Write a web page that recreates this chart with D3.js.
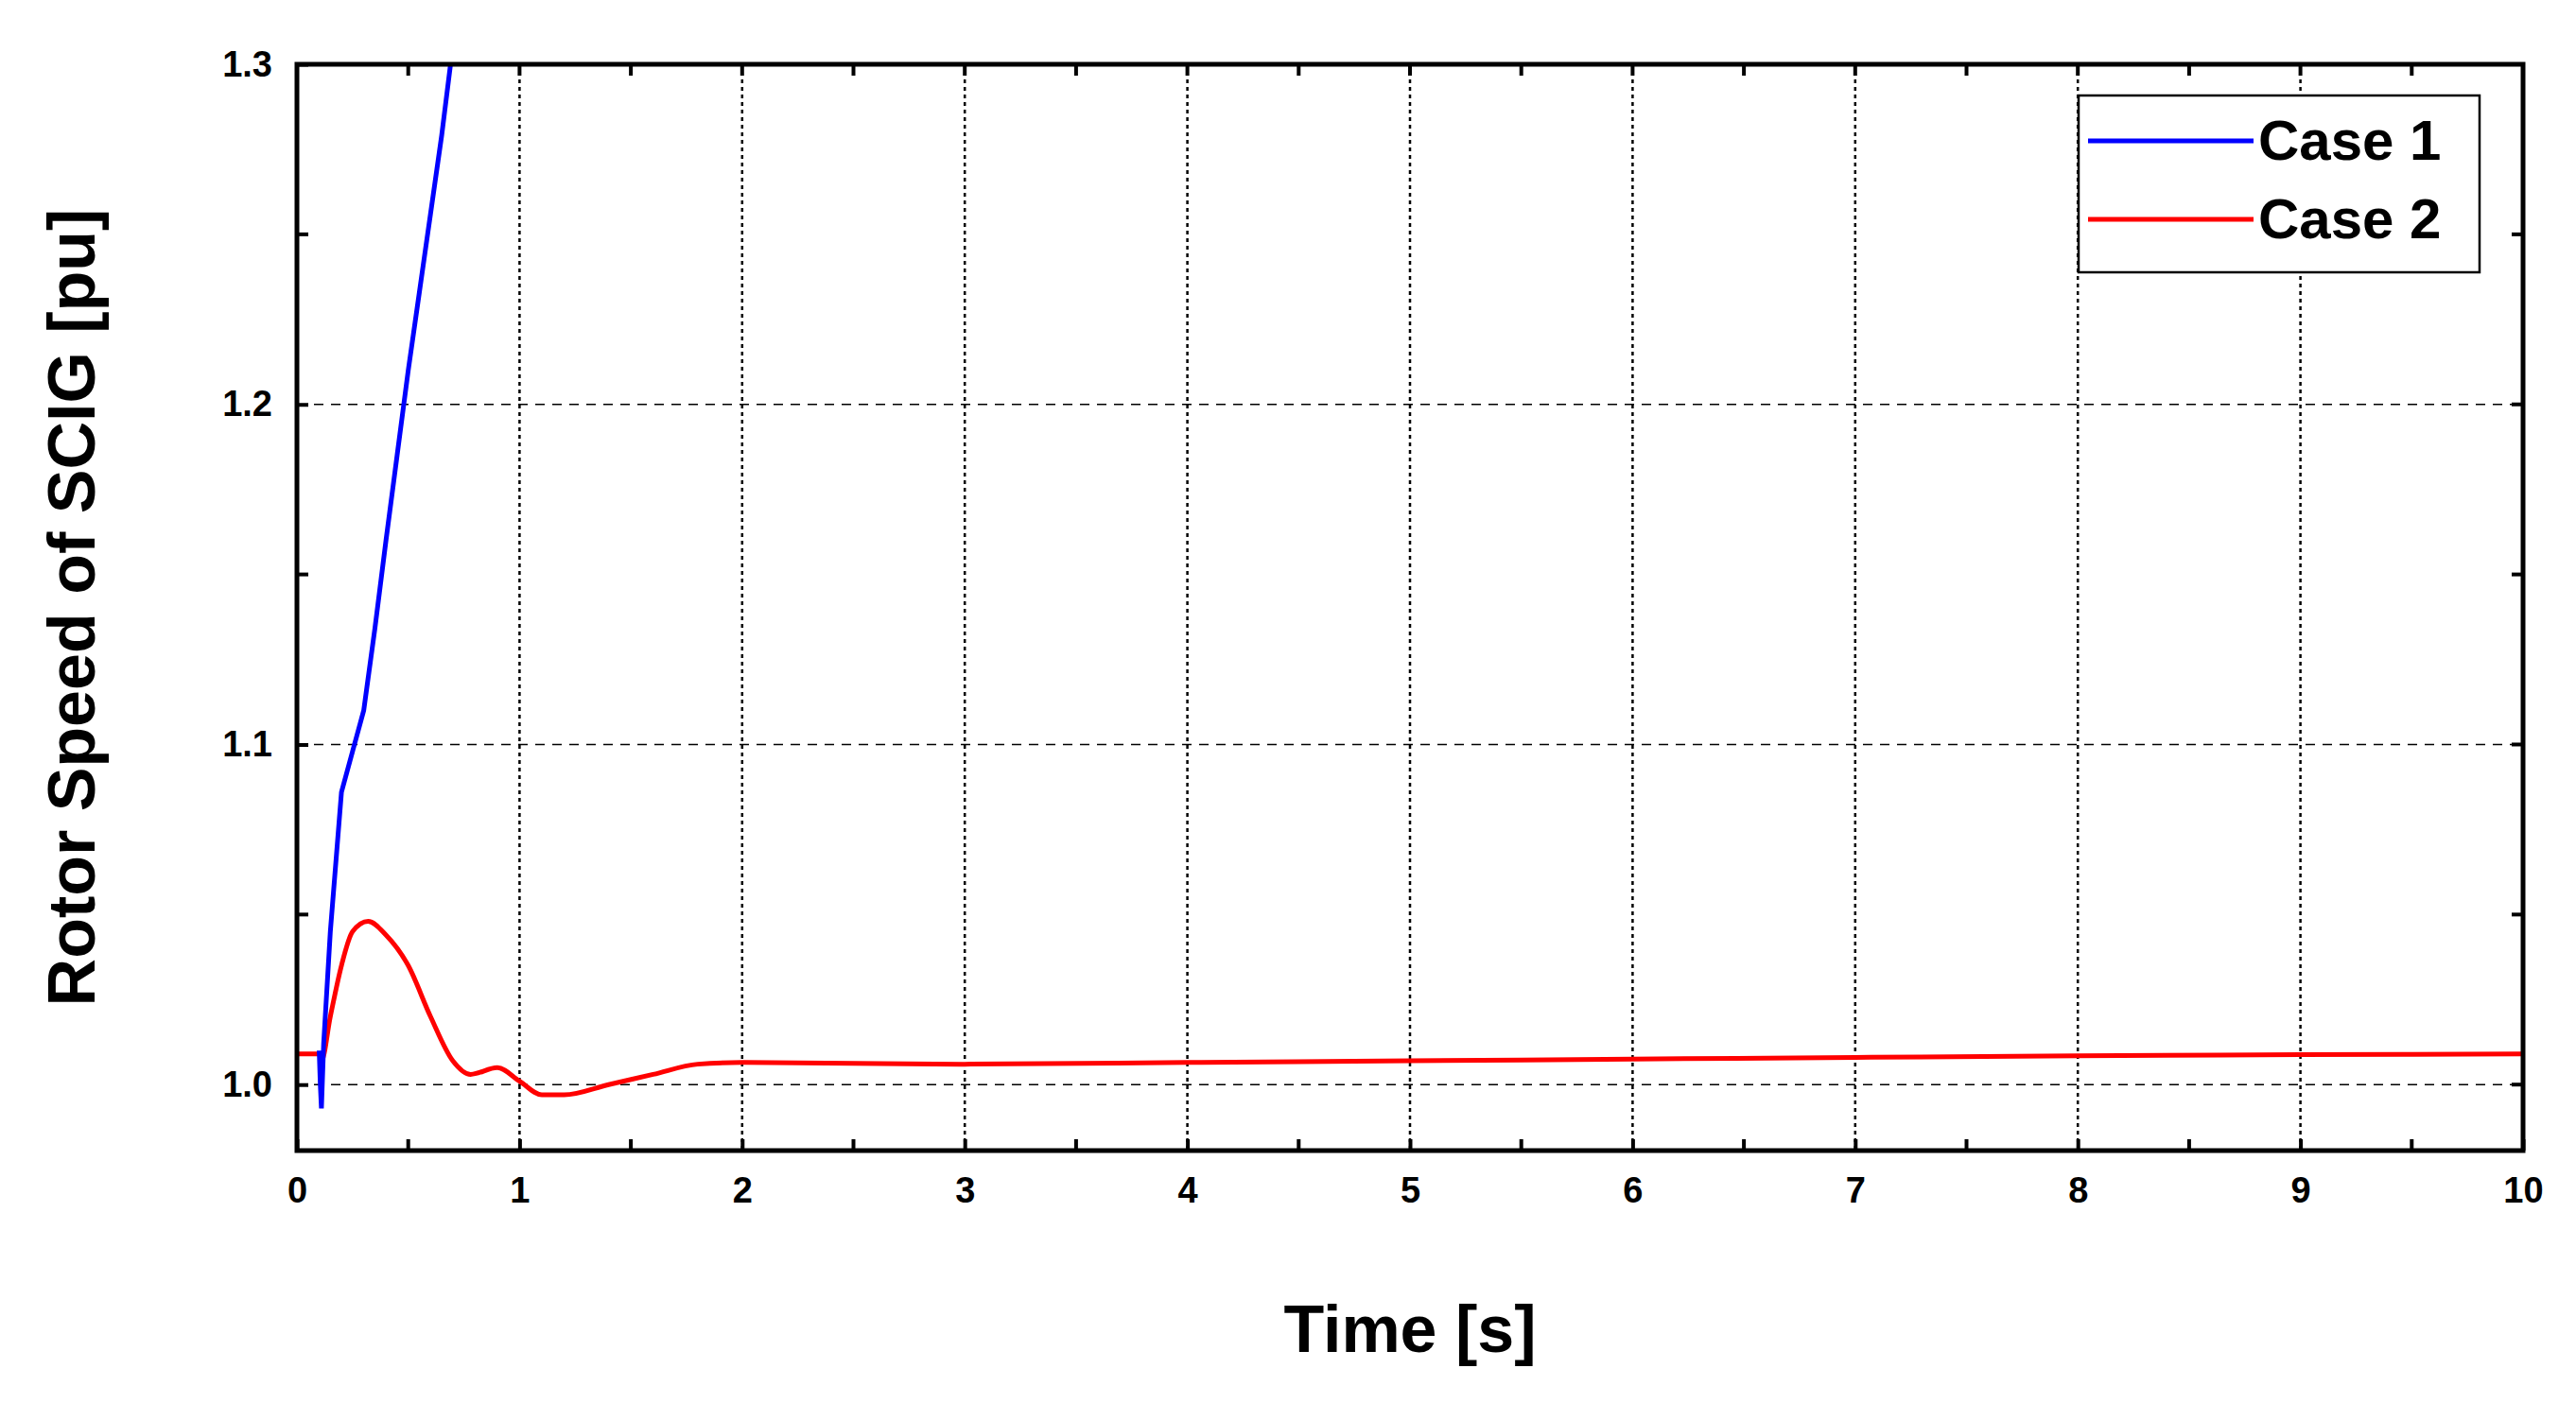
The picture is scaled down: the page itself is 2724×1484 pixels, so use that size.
<!DOCTYPE html>
<html>
<head>
<meta charset="UTF-8">
<script src="https://d3js.org/d3.v7.min.js"></script>
<style>
body { margin: 0; background: #fff; }
text { font-family: "Liberation Sans", Arial, sans-serif; font-weight: bold; }
</style>
</head>
<body>
<script>
// Case 1 (blue) - runs off the top of the plot
var time1 = [0.10, 0.105, 0.11, 0.12, 0.15, 0.2, 0.25, 0.3, 0.35, 0.4, 0.45, 0.5, 0.55, 0.6, 0.65, 0.69];
var speed1 = [1.010, 1.000, 0.993, 1.012, 1.045, 1.086, 1.098, 1.110, 1.134, 1.160, 1.185, 1.210, 1.233, 1.256, 1.279, 1.300];
// Case 2 (red)
var time2 = [0, 0.1, 0.11, 0.15, 0.2, 0.25, 0.32, 0.4, 0.5, 0.6, 0.7, 0.78, 0.9, 1.0, 1.1, 1.2, 1.4, 1.6, 1.8, 2, 3, 4, 5, 6, 7, 8, 9, 10];
var speed2 = [1.009, 1.009, 1.007, 1.020, 1.035, 1.045, 1.048, 1.044, 1.035, 1.020, 1.007, 1.003, 1.005, 1.001, 0.997, 0.997, 1.000, 1.003, 1.006, 1.0065, 1.006, 1.0065, 1.007, 1.0075, 1.008, 1.0085, 1.0088, 1.009];
var xTicks = [0, 1, 2, 3, 4, 5, 6, 7, 8, 9, 10];
var yTicks = [1.0, 1.1, 1.2, 1.3];
var seriesNames = ["Case 1", "Case 2"];
var seriesColors = ["#0000ff", "#ff0000"];

var W = 2724, H = 1484;
var margin = {top: 68, right: 56, bottom: 267, left: 314};
var width = W - margin.left - margin.right,
    height = H - margin.top - margin.bottom;

var svg = d3.select("body").append("svg").attr("width", W).attr("height", H);
var g = svg.append("g").attr("transform", "translate(" + margin.left + "," + margin.top + ")");

var x = d3.scaleLinear().domain([0, 10]).range([0, width]);
var y = d3.scaleLinear().domain([0.9806, 1.3]).range([height, 0]);

g.append("clipPath").attr("id", "clip").append("rect").attr("width", width).attr("height", height);

// grid
g.selectAll(".hgrid").data([1.0, 1.1, 1.2]).enter().append("line")
  .attr("x1", 0).attr("x2", width).attr("y1", d => y(d)).attr("y2", d => y(d))
  .attr("stroke", "#000").attr("stroke-width", 1.5).attr("stroke-dasharray", "10,8");
g.selectAll(".vgrid").data(xTicks.slice(1, -1)).enter().append("line")
  .attr("y1", 0).attr("y2", height).attr("x1", d => x(d)).attr("x2", d => x(d))
  .attr("stroke", "#000").attr("stroke-width", 2.5).attr("stroke-dasharray", "4,4");

// lines
var line = d3.line().x(d => x(d[0])).y(d => y(d[1])).curve(d3.curveMonotoneX);
var plot = g.append("g").attr("clip-path", "url(#clip)");
plot.append("path").datum(d3.zip(time2, speed2)).attr("d", line)
  .attr("fill", "none").attr("stroke", seriesColors[1]).attr("stroke-width", 5);
plot.append("path").datum(d3.zip(time1, speed1)).attr("d", d3.line().x(d => x(d[0])).y(d => y(d[1])))
  .attr("fill", "none").attr("stroke", seriesColors[0]).attr("stroke-width", 5);

// axes
var xAxis = d3.axisBottom(x).tickValues(xTicks).tickSize(-12).tickPadding(28).tickFormat(d3.format("d"));
var yAxis = d3.axisLeft(y).tickValues(yTicks).tickSize(-12).tickPadding(26).tickFormat(d3.format(".1f"));
var gx = g.append("g").attr("transform", "translate(0," + height + ")").call(xAxis);
var gy = g.append("g").call(yAxis);
[gx, gy].forEach(a => {
  a.select(".domain").remove();
  a.selectAll("line").attr("stroke-width", 4);
  a.selectAll("text").style("font-size", "38px").style("font-weight", "bold").attr("fill", "#000");
});
gx.selectAll(".tick line").attr("y2", -12);
// minor + mirrored ticks
var minorX = d3.range(0.5, 10, 1), minorY = [1.05, 1.15, 1.25];
g.selectAll(".mx").data(minorX).enter().append("line")
  .attr("x1", d => x(d)).attr("x2", d => x(d)).attr("y1", height).attr("y2", height - 12)
  .attr("stroke", "#000").attr("stroke-width", 4);
g.selectAll(".mxt").data(xTicks.concat(minorX)).enter().append("line")
  .attr("x1", d => x(d)).attr("x2", d => x(d)).attr("y1", 0).attr("y2", 12)
  .attr("stroke", "#000").attr("stroke-width", 4);
g.selectAll(".my").data(minorY).enter().append("line")
  .attr("x1", 0).attr("x2", 12).attr("y1", d => y(d)).attr("y2", d => y(d))
  .attr("stroke", "#000").attr("stroke-width", 4);
g.selectAll(".myr").data(yTicks.concat(minorY)).enter().append("line")
  .attr("x1", width).attr("x2", width - 12).attr("y1", d => y(d)).attr("y2", d => y(d))
  .attr("stroke", "#000").attr("stroke-width", 4);

// frame
g.append("rect").attr("width", width).attr("height", height)
  .attr("fill", "none").attr("stroke", "#000").attr("stroke-width", 5);

// titles
svg.append("text").attr("x", margin.left + width / 2).attr("y", 1430)
  .attr("text-anchor", "middle").style("font-size", "70px").text("Time [s]");
svg.append("text").attr("transform", "translate(100," + (margin.top + height / 2) + ") rotate(-90)")
  .attr("text-anchor", "middle").style("font-size", "70px").text("Rotor Speed of SCIG [pu]");

// legend
var lg = svg.append("g").attr("transform", "translate(2198,101)");
lg.append("rect").attr("width", 424).attr("height", 187).attr("fill", "#fff")
  .attr("stroke", "#000").attr("stroke-width", 2.5);
seriesNames.forEach((n, i) => {
  var yy = 48 + i * 83;
  lg.append("line").attr("x1", 10).attr("x2", 185).attr("y1", yy).attr("y2", yy)
    .attr("stroke", seriesColors[i]).attr("stroke-width", 5);
  lg.append("text").attr("x", 190).attr("y", yy + 20).style("font-size", "60px").text(n);
});
</script>
</body>
</html>
